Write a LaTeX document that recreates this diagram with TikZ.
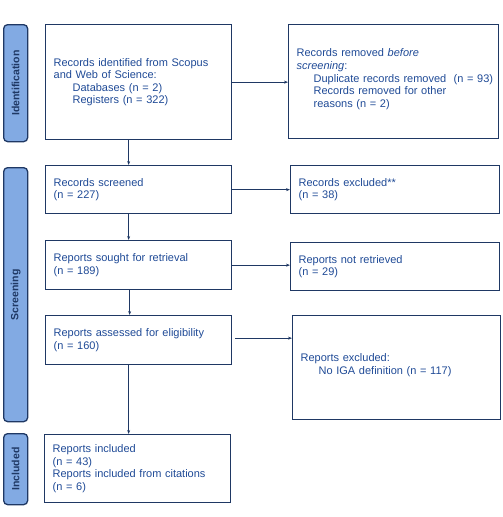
\documentclass[tikz,border=0pt]{standalone}
\usepackage{fontspec}
\setmainfont{Liberation Sans}
\usetikzlibrary{arrows.meta}
\definecolor{navy}{HTML}{1F3864}
\definecolor{txtblue}{HTML}{1F4A96}
\definecolor{sidefill}{HTML}{82AAE3}
\tikzset{
  box/.style={draw=navy, line width=1.3pt, text=txtblue, anchor=north west,
    font=\fontsize{11}{12.6}\selectfont, align=left, inner xsep=8pt, inner ysep=0pt},
  side/.style={draw=navy, line width=1.3pt, fill=sidefill, rounded corners=4pt,
    anchor=north west, minimum width=24pt, inner sep=0pt},
  sidelabel/.style={rotate=90, font=\fontsize{10.5}{12}\selectfont\bfseries, text=navy},
  arr/.style={draw=navy, line width=0.7pt, -{Stealth[length=4pt,width=3pt]}}
}
\begin{document}
\begin{tikzpicture}[x=1pt,y=-1pt]
\useasboundingbox (0,0) rectangle (503,517);
% side bars
\node[side, minimum height=117pt] (sid) at (3,24) {};
\node[sidelabel] (sidl) at (sid.center) {Identification};
\node[side, minimum height=254pt] (sscr) at (3,167) {};
\node[sidelabel] (sscrl) at (sscr.center) {Screening};
\node[side, minimum height=71pt] (sinc) at (3,433) {};
\node[sidelabel] (sincl) at (sinc.center) {Included};
% left column
\node[box, minimum width=186pt, minimum height=115pt, text width=170pt] (b1) at (45,24)
  {Records identified from Scopus\\and Web of Science:\\\hspace*{19pt}Databases (n = 2)\\\hspace*{19pt}Registers (n = 322)};
\node[box, minimum width=186pt, minimum height=48pt, text width=170pt] (scr) at (45,165)
  {Records screened\\(n = 227)};
\node[box, minimum width=186pt, minimum height=49pt, text width=170pt] (sou) at (45,240)
  {Reports sought for retrieval\\(n = 189)};
\node[box, minimum width=186pt, minimum height=49pt, text width=170pt] (ass) at (45,315)
  {Reports assessed for eligibility\\(n = 160)};
\node[box, minimum width=186pt, minimum height=68pt, text width=170pt] (inc) at (44,434)
  {Reports included\\(n = 43)\\Reports included from citations\\(n = 6)};
% right column
\node[box, minimum width=210pt, minimum height=114pt, text width=194pt] (rm) at (288,24)
  {Records removed \textit{before}\\\textit{screening}:\\\hspace*{17pt}\mbox{Duplicate records removed\ \ (n = 93)}\\\hspace*{17pt}Records removed for other\\\hspace*{17pt}reasons (n = 2)\rule[-7pt]{0pt}{1pt}};
\node[box, minimum width=209pt, minimum height=48pt, text width=193pt] (exc) at (290,165)
  {Records excluded**\\(n = 38)};
\node[box, minimum width=209pt, minimum height=48pt, text width=193pt] (nr) at (290,242)
  {Reports not retrieved\\(n = 29)};
\node[box, minimum width=208pt, minimum height=104pt, text width=192pt] (rex) at (292,315)
  {Reports excluded:\\\hspace*{18pt}No IGA definition (n = 117)\rule[-7pt]{0pt}{1pt}};
% connectors
\draw[arr] (b1.east) -- (b1.east -| rm.west);
\draw[arr] ([xshift=-10pt]b1.south) -- ([xshift=-10pt]scr.north);
\draw[arr] ([xshift=-10pt]scr.south) -- ([xshift=-10pt]sou.north);
\draw[arr] ([xshift=-9pt]sou.south) -- ([xshift=-9pt]ass.north);
\draw[arr] ([xshift=-10pt]ass.south) -- ([xshift=-10pt]ass.south |- inc.north);
\draw[arr] (scr.east) -- (scr.east -| exc.west);
\draw[arr] (sou.east) -- (sou.east -| nr.west);
\draw[arr] ([xshift=3pt,yshift=2pt]ass.east) -- ([yshift=2pt]ass.east -| rex.west);
\end{tikzpicture}
\end{document}
